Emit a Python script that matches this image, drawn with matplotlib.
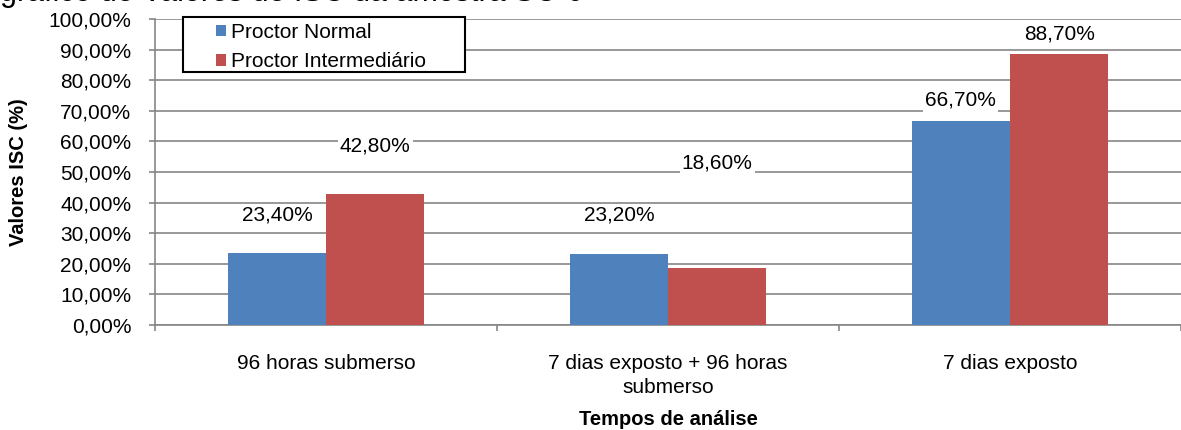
import matplotlib.pyplot as plt
import matplotlib.patches as mpatches
import numpy as np

plt.rcParams['font.family'] = ['Liberation Sans', 'DejaVu Sans']

categories = ['96 horas submerso', '7 dias exposto + 96 horas\nsubmerso', '7 dias exposto']
normal = [23.4, 23.2, 66.7]
intermed = [42.8, 18.6, 88.7]
series_names = ['Proctor Normal', 'Proctor Intermediário']
# where Excel put the data labels (value units)
label_y_normal = [35.9, 35.9, 73.5]
label_y_inter = [58.5, 53.0, 95.0]

blue = '#4F81BD'
red = '#C0504D'
grey = '#868686'
fs = 15

W, H = 1181, 430
fig = plt.figure(figsize=(W / 100, H / 100), dpi=100)
ax = fig.add_axes([155 / W, 1 - 325 / H, 1026 / W, 306 / H])

x = np.arange(len(categories))
w = 0.287
ax.bar(x - w / 2, normal, w, color=blue, label=series_names[0], zorder=3)
ax.bar(x + w / 2, intermed, w, color=red, label=series_names[1], zorder=3)

def fmt(v):
    return '{:.2f}%'.format(v).replace('.', ',')

box = dict(facecolor='white', edgecolor='none', pad=1.5)
for i in range(len(categories)):
    ax.text(x[i] - w / 2, label_y_normal[i], fmt(normal[i]), ha='center', va='center',
            fontsize=fs, bbox=box, zorder=4)
    ax.text(x[i] + w / 2, label_y_inter[i], fmt(intermed[i]), ha='center', va='center',
            fontsize=fs, bbox=box, zorder=4)

ax.set_xlim(-0.5, len(categories) - 0.5)
ax.set_ylim(0, 100)
yt = np.arange(0, 101, 10)
ax.set_yticks(yt)
ax.set_yticklabels([fmt(v) for v in yt], fontsize=fs)
ax.set_xticks(x)
ax.set_xticklabels(categories, fontsize=fs, linespacing=1.3)
ax.set_xticks(np.arange(-0.5, len(categories), 1.0), minor=True)
ax.tick_params(axis='x', which='major', length=0, pad=21)
ax.tick_params(axis='x', which='minor', length=4, color=grey, width=1.2)
ax.tick_params(axis='y', length=4, color=grey, width=1.2, pad=13)

ax.yaxis.grid(True, color=grey, linewidth=1.2, zorder=0)
for s in ['top', 'right']:
    ax.spines[s].set_visible(False)
for s in ['left', 'bottom']:
    ax.spines[s].set_color(grey)
    ax.spines[s].set_linewidth(1.2)

ax.set_ylabel('Valores ISC (%)', fontsize=14.5, fontweight='bold', va='center')
ax.yaxis.set_label_coords(-0.1335, 0.5)
ax.set_xlabel('Tempos de análise', fontsize=14.5, fontweight='bold', va='center')
ax.xaxis.set_label_coords(0.5, -0.31)

# legend box like the Excel one (wide side padding)
frame = mpatches.Rectangle((183 / W, 1 - 72 / H), 282 / W, 55 / H, transform=fig.transFigure,
                           facecolor='white', edgecolor='black', linewidth=1.5,
                           zorder=5, clip_on=False)
ax.add_patch(frame)
leg = ax.legend(loc='upper left', bbox_to_anchor=(216 / W, 1 - 23 / H), bbox_transform=fig.transFigure,
                fontsize=fs, frameon=False, handlelength=0.47, handleheight=0.47,
                handletextpad=0.25, borderpad=0, labelspacing=0.5, borderaxespad=0)
leg.set_zorder(6)

# title is cut off at the top of the original image
fig.text(0.0, 1 - 1.5 / H, 'gráfico de Valores de ISC da amostra SC-0', fontsize=22, ha='left', va='baseline')

fig.savefig('out.png', dpi=100)
